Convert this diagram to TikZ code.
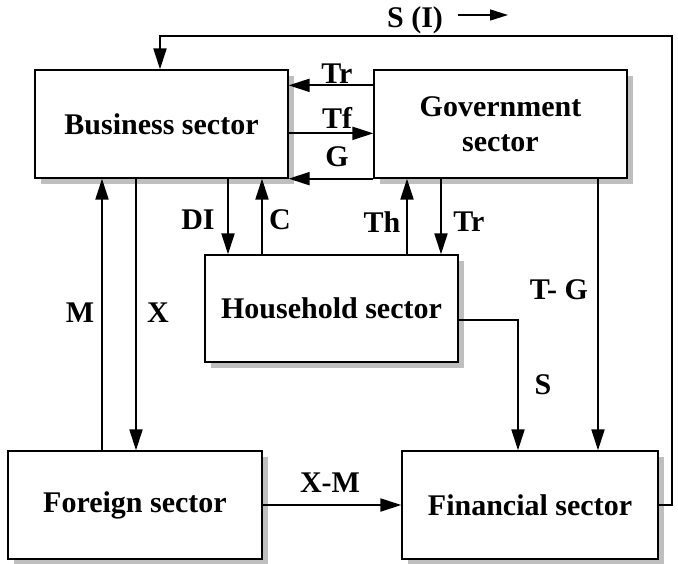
\documentclass[tikz,border=0pt]{standalone}
\usepackage{fontspec}
\setmainfont{Liberation Serif}
\usetikzlibrary{arrows.meta,shadows}
\newcommand\lblfont{\bfseries\fontsize{30}{35}\selectfont}
\begin{document}
\begin{tikzpicture}[x=1pt,y=-1pt,
  box/.style={draw, line width=1.3pt, fill=white, minimum width=253pt, minimum height=108pt,
    inner sep=0pt, align=center, font=\lblfont,
    drop shadow={shadow xshift=6pt, shadow yshift=-6pt, fill=black!25, opacity=1}},
  arr/.style={line width=2pt, -{Triangle[length=21pt,width=13pt]}},
  lbl/.style={font=\lblfont, inner sep=0pt}]
\useasboundingbox (0,0) rectangle (678,563);
\fill[white] (0,0) rectangle (678,563);
% boxes
\node[box] (bus) at (161.5,124) {Business sector};
\node[box] (gov) at (500.5,124) {Government\\sector};
\node[box, minimum height=107pt] (hh) at (331.5,308.5) {Household sector};
\node[box, minimum width=254pt] (for) at (135,505) {Foreign sector};
\node[box, minimum width=256pt] (fin) at (530,505) {Financial sector};
% helper coordinates
\coordinate (xDI) at (228,0);
\coordinate (xC) at (262,0);
\coordinate (xTh) at (407,0);
\coordinate (xTr) at (441,0);
\coordinate (xM) at (102,0);
\coordinate (xX) at (136,0);
\coordinate (xTG) at (598,0);
\coordinate (xS) at (518,0);
\coordinate (xSI) at (160,0);
\coordinate (cTR) at (672,36);
\coordinate (sia) at (458,15);
\coordinate (sib) at (508,15);
% connectors between business and government
\draw[arr] ([yshift=-16pt]gov.north west) -- ([yshift=-16pt]bus.north east);
\draw[arr] ([yshift=-64pt]bus.north east) -- ([yshift=-64pt]gov.north west);
\draw[arr] (gov.south west) -- (bus.south east);
% vertical connectors
\draw[arr] (xDI |- bus.south) -- (xDI |- hh.north);
\draw[arr] (xC |- hh.north) -- (xC |- bus.south);
\draw[arr] (xTh |- hh.north) -- (xTh |- gov.south);
\draw[arr] (xTr |- gov.south) -- (xTr |- hh.north);
\draw[arr] (xM |- for.north) -- (xM |- bus.south);
\draw[arr] (xX |- bus.south) -- (xX |- for.north);
\draw[arr] (xTG |- gov.south) -- (xTG |- fin.north);
\draw[arr] ([yshift=-11.5pt]hh.east) -| (xS |- fin.north);
\draw[arr] (for.east) -- (fin.west);
\draw[arr] (fin.east) -| (cTR) -| (xSI |- bus.north);
\draw[line width=1.5pt, -{Triangle[length=18pt,width=11pt]}] (sia) -- (sib);
% labels
\node[lbl] (lSI) at (415,20) {S (I)};
\node[lbl] (lTr) at (337,74) {Tr};
\node[lbl] (lTf) at (337,118) {Tf};
\node[lbl] (lG) at (337,157) {G};
\node[lbl] (lDI) at (198,220) {DI};
\node[lbl] (lC) at (280,220) {C};
\node[lbl] (lTh) at (382,222) {Th};
\node[lbl] (lTr2) at (469,222) {Tr};
\node[lbl] (lM) at (80,313) {M};
\node[lbl] (lX) at (158,313) {X};
\node[lbl] (lTG) at (559,290) {T- G};
\node[lbl] (lS) at (543,385) {S};
\node[lbl] (lXM) at (330,483) {X-M};
\end{tikzpicture}
\end{document}
